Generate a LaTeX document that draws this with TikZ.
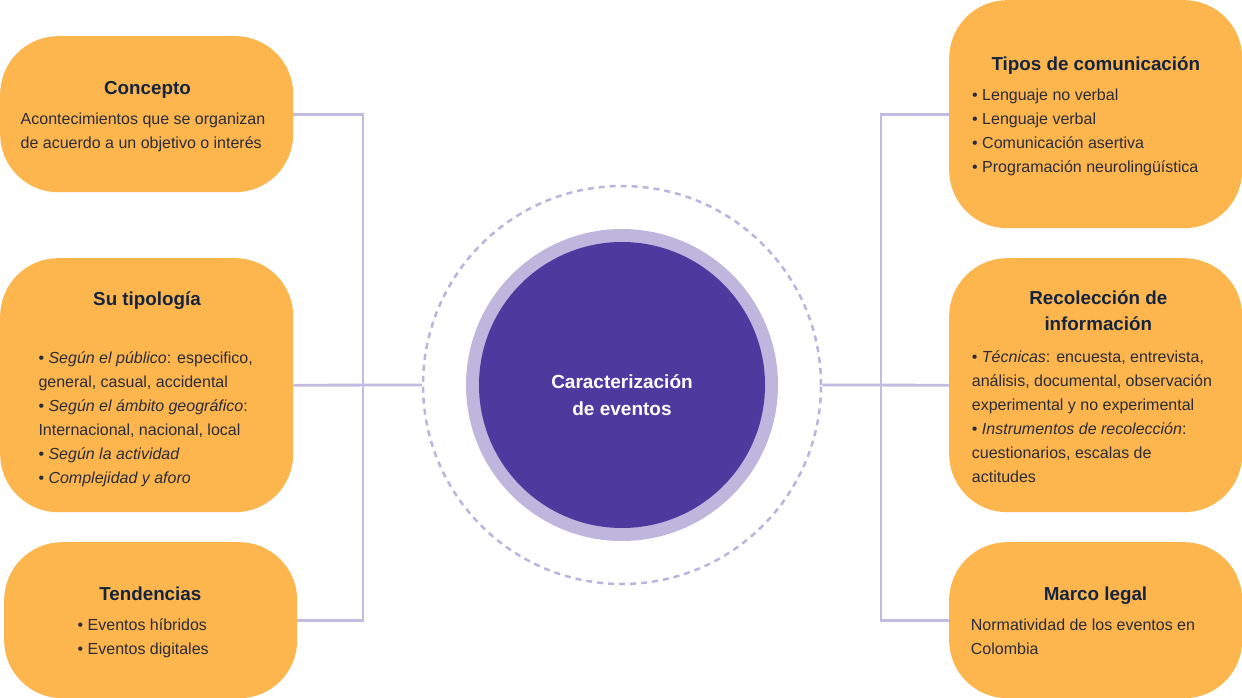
\documentclass[tikz,border=0pt]{standalone}
\usepackage{fontspec}
\setmainfont{Liberation Sans}
\definecolor{boxfill}{HTML}{FDB64D}
\definecolor{titlec}{HTML}{15243E}
\definecolor{bodyc}{HTML}{2B2B3A}
\definecolor{linec}{HTML}{C3BCE2}
\definecolor{purp}{HTML}{4E399F}
\definecolor{ringc}{HTML}{BFB6DD}
\definecolor{dashc}{HTML}{BDB4DE}
\pgfdeclarelayer{background}
\pgfsetlayers{background,main}
\begin{document}
\begin{tikzpicture}[x=1pt,y=-1pt,
  box/.style={rectangle,fill=boxfill,rounded corners=58pt,minimum width=293pt,anchor=north west,inner sep=0pt},
  ttl/.style={font=\fontsize{18.8}{26}\selectfont\bfseries,text=titlec,anchor=base,inner sep=0pt,align=center},
  body/.style={font=\fontsize{16}{24}\selectfont,text=bodyc,anchor=base west,inner sep=0pt,align=left},
  ctext/.style={font=\fontsize{19}{27}\selectfont\bfseries,text=white,anchor=base,inner sep=0pt},
  conn/.style={draw=linec,line width=2.8pt}]
\useasboundingbox (0,0) rectangle (1242,698);
\begin{pgfonlayer}{background}
\fill[white] (0,0) rectangle (1242,698);
\end{pgfonlayer}

% bus coordinates
\coordinate (lbus) at (363,385);
\coordinate (rbus) at (881,385);

% centre circles
\node[circle,draw=dashc,line width=2.5pt,dash pattern=on 6pt off 5pt,minimum size=398pt,inner sep=0pt] (dash) at (622,385) {};
\node[circle,fill=ringc,minimum size=312pt,inner sep=0pt] (ring) at (622,385) {};
\node[circle,fill=purp,minimum size=286pt,inner sep=0pt] (centre) at (622,385) {};
\node[ctext] (c1) at (622,388.5) {Caracterización};
\node[ctext] (c2) at (622,415.5) {de eventos};

% boxes
\node[box,minimum height=156pt] (concepto) at (0,36) {};
\node[box,minimum height=254pt] (tipologia) at (0,258) {};
\node[box,minimum height=156pt] (tendencias) at (4,542) {};
\node[box,minimum height=228pt] (tipos) at (949,0) {};
\node[box,minimum height=254pt] (recol) at (949,258) {};
\node[box,minimum height=156pt] (marco) at (949,542) {};

% connectors
\begin{pgfonlayer}{background}
\path[conn] (concepto.east) -| (lbus) |- (tendencias.east);
\path[conn] (tipologia.east) -- (dash.west);
\path[conn] (tipos.west) -| (rbus) |- (marco.west);
\path[conn] (dash.east) -- (recol.west);
\end{pgfonlayer}

% texts (base anchor = baseline of last line)
\node[ttl] (t1) at (147.5,95) {Concepto};
\node[body] (b1) at (20.5,148.5) {Acontecimientos que se organizan\\de acuerdo a un objetivo o interés};

\node[ttl] (t2) at (147,305) {Su tipología};
\node[body] (b2) at (38.3,483) {\textbullet\ \textit{Según el público}: especifico,\\general, casual, accidental\\\textbullet\ \textit{Según el ámbito geográfico}:\\Internacional, nacional, local\\\textbullet\ \textit{Según la actividad}\\\textbullet\ \textit{Complejidad y aforo}};

\node[ttl] (t3) at (150.3,600.7) {Tendencias};
\node[body] (b3) at (77.5,654.5) {\textbullet\ Eventos híbridos\\\textbullet\ Eventos digitales};

\node[ttl] (t4) at (1095.8,70.7) {Tipos de comunicación};
\node[body] (b4) at (972,172.5) {\textbullet\ Lenguaje no verbal\\\textbullet\ Lenguaje verbal\\\textbullet\ Comunicación asertiva\\\textbullet\ Programación neurolingüística};

\node[ttl] (t5) at (1098.3,330) {Recolección de\\información};
\node[body] (b5) at (971.7,482.7) {\textbullet\ \textit{Técnicas}: encuesta, entrevista,\\análisis, documental, observación\\experimental y no experimental\\\textbullet\ \textit{Instrumentos de recolección}:\\cuestionarios, escalas de\\actitudes};

\node[ttl] (t6) at (1095.5,600.7) {Marco legal};
\node[body] (b6) at (970.7,654.2) {Normatividad de los eventos en\\Colombia};
\end{tikzpicture}
\end{document}
